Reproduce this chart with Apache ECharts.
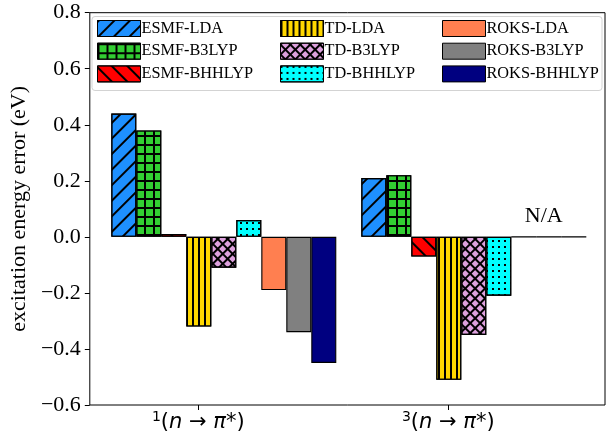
<!DOCTYPE html>
<html>
<head>
<meta charset="utf-8">
<script src="https://cdn.jsdelivr.net/npm/echarts@6/dist/echarts.min.js"></script>
<style>html,body{margin:0;padding:0;background:#fff}#c{width:606px;height:439px}</style>
</head>
<body>
<div id="c"></div>
<script>
// ---- data ----
var categories = ['1', '3'];
var seriesNames = ['ESMF-LDA','ESMF-B3LYP','ESMF-BHHLYP','TD-LDA','TD-B3LYP','TD-BHHLYP','ROKS-LDA','ROKS-B3LYP','ROKS-BHHLYP'];
var esmfLda    = [0.44, 0.21];
var esmfB3lyp  = [0.38, 0.22];
var esmfBhhlyp = [0.01, -0.07];
var tdLda      = [-0.32, -0.51];
var tdB3lyp    = [-0.11, -0.35];
var tdBhhlyp   = [0.06, -0.21];
var roksLda    = [-0.19, 0];
var roksB3lyp  = [-0.34, 0];
var roksBhhlyp = [-0.45, 0];
var naLabels   = ['', 'N/A'];   // shown above the ROKS-B3LYP bar
var yTicks = { min: -0.6, max: 0.8, interval: 0.2 };
var yName = 'excitation energy error (eV)';

// ---- styles ----
var SERIF = 'Liberation Serif';
var colors = ['#1E90FF','#32CD32','#FF0000','#FFD700','#DDA0DD','#00FFFF','#FF7F50','#808080','#000080'];
var decals = [
  { symbol:'rect', color:'#000', dashArrayX:[1,0], dashArrayY:[1.1,9], rotation:-Math.PI/4 },
  { symbol:'rect', color:'#000', dashArrayX:[[1,0],[1.2,6.8]], dashArrayY:[1.2,0,6.8,0], rotation:0 },
  { symbol:'rect', color:'#000', dashArrayX:[1,0], dashArrayY:[1.1,9], rotation:Math.PI/4 },
  { symbol:'rect', color:'#000', dashArrayX:[1.2,3.8], dashArrayY:[1,0], rotation:0 },
  { symbol:'rect', color:'#000', dashArrayX:[[1,0],[1.2,4.8]], dashArrayY:[1.2,0,4.8,0], rotation:Math.PI/4 },
  { symbol:'rect', color:'#000', dashArrayX:[1.8,3.7], dashArrayY:[1.8,3.4], rotation:0 },
  null, null, null
];
var values = [esmfLda, esmfB3lyp, esmfBhhlyp, tdLda, tdB3lyp, tdBhhlyp, roksLda, roksB3lyp, roksBhhlyp];

var series = seriesNames.map(function (name, i) {
  var data = values[i].map(function (v, j) {
    if (i === 7 && naLabels[j]) {
      return { value: v, label: { show: true, formatter: naLabels[j], position: 'top', distance: 9, offset: [-5, 0],
               fontFamily: SERIF, fontSize: 22, color: '#000' } };
    }
    return v;
  });
  var it = { color: colors[i], borderColor: '#000', borderWidth: 1.1 };
  if (decals[i]) it.decal = decals[i];
  return {
    name: name, type: 'bar', xAxisIndex: 1, yAxisIndex: 1,
    barWidth: 25, barGap: '0%', data: data, itemStyle: it,
    emphasis: { disabled: true }, animation: false
  };
});

var legendCols = [seriesNames.slice(0,3), seriesNames.slice(3,6), seriesNames.slice(6,9)];
var legendX = [97, 280, 442];
var legends = legendCols.map(function (names, i) {
  return {
    orient: 'vertical', left: legendX[i], top: 20, padding: 0,
    itemWidth: 43, itemHeight: 16, itemGap: 5.7, icon: 'rect',
    selectedMode: false, data: names,
    itemStyle: { borderColor: '#000', borderWidth: 1 },
    textStyle: { fontFamily: SERIF, fontSize: 16.3, color: '#000', lineHeight: 16, padding: [0, 0, 0, -4] }
  };
});

function fmtY(v) {
  var s = Math.abs(v) < 1e-9 ? '0.0' : v.toFixed(1);
  return s.replace('-', '\u2212');
}

var chart = echarts.init(document.getElementById('c'), null, { renderer: 'canvas' });
chart.setOption({
  animation: false,
  backgroundColor: '#fff',
  graphic: [{
    type: 'rect', left: 91.5, top: 16, z: -1,
    shape: { width: 510, height: 74, r: 3 },
    style: { fill: 'rgba(255,255,255,0.8)', stroke: '#d3d3d3', lineWidth: 1 }
  }],
  legend: legends,
  grid: [
    { left: 87, right: 1, top: 12.7, bottom: 34, show: true, borderColor: '#000', borderWidth: 1, backgroundColor: 'transparent' },
    { left: 98.8, right: 7.2, top: 12.7, bottom: 34 },
    { left: 73.3, right: 32.7, top: 12.7, bottom: 34 }
  ],
  xAxis: [
    { gridIndex: 0, type: 'value', min: 0, max: 1, show: false },
    { gridIndex: 1, type: 'category', data: categories, show: false },
    { gridIndex: 2, type: 'category', data: categories,
      axisLine: { show: false },
      axisTick: { show: true, alignWithLabel: true, length: 5, lineStyle: { color: '#000' } },
      axisLabel: {
        margin: 5,
        formatter: function (v) { return '{s|' + v + '}{n|(}{i|n}{n| \u2192 }{i|\u03C0}{n|*)}'; },
        rich: {
          s: { fontFamily: 'DejaVu Sans', fontSize: 14, color: '#000', verticalAlign: 'top', lineHeight: 26 },
          n: { fontFamily: 'DejaVu Sans', fontSize: 21, color: '#000', lineHeight: 26 },
          i: { fontFamily: 'DejaVu Sans', fontSize: 21, fontStyle: 'italic', color: '#000', lineHeight: 26 }
        }
      }
    }
  ],
  yAxis: [
    { gridIndex: 0, type: 'value', min: yTicks.min, max: yTicks.max, interval: yTicks.interval,
      axisLine: { show: false },
      axisTick: { show: true, length: 5, lineStyle: { color: '#000' } },
      splitLine: { show: false },
      axisLabel: { margin: 9, formatter: fmtY, fontFamily: SERIF, fontSize: 22, color: '#000' },
      name: yName, nameLocation: 'middle', nameGap: 54, nameRotate: 90,
      nameTextStyle: { fontFamily: SERIF, fontSize: 22, color: '#000' }
    },
    { gridIndex: 1, type: 'value', min: yTicks.min, max: yTicks.max, interval: yTicks.interval, show: false },
    { gridIndex: 2, type: 'value', min: 0, max: 1, show: false }
  ],
  series: series
});
</script>
</body>
</html>
